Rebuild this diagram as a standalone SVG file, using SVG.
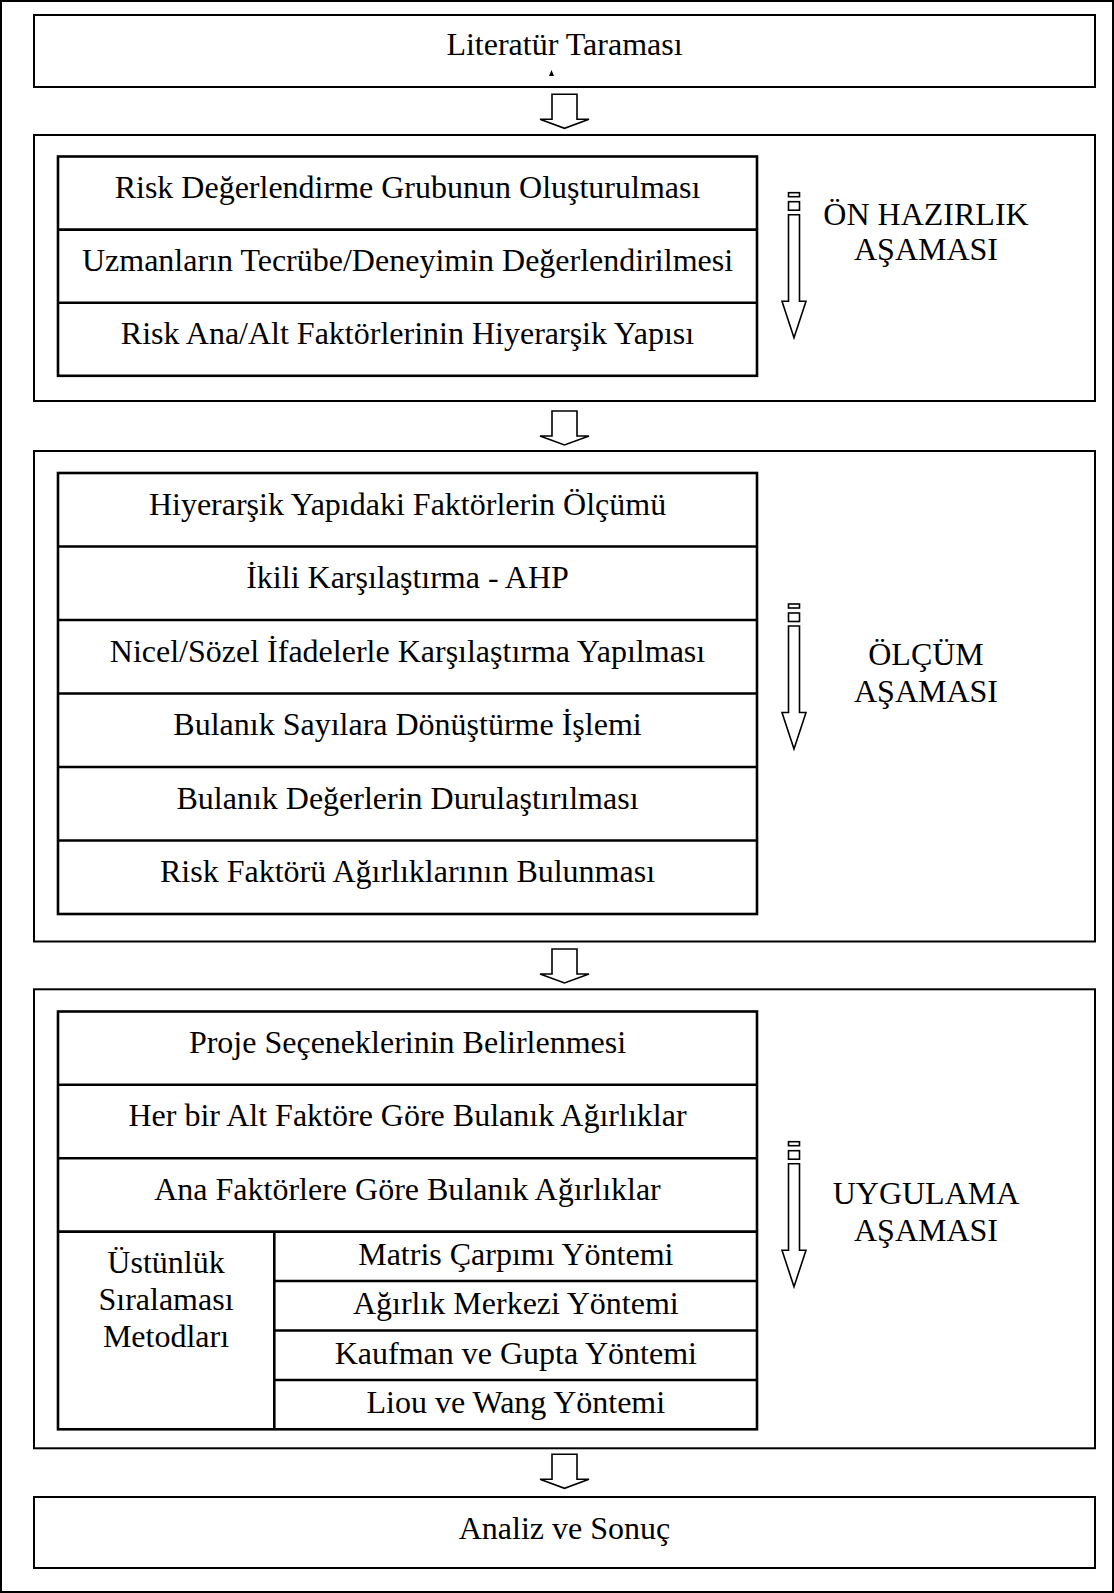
<svg xmlns="http://www.w3.org/2000/svg" width="1114" height="1593" viewBox="0 0 1114 1593">
<style>
.frame{fill:none;stroke:#000;stroke-width:2}
.box{fill:#fff;stroke:#000;stroke-width:2}
.cell{fill:none;stroke:#000;stroke-width:2.6}
.t{font-family:"Liberation Serif","Times New Roman",serif;font-size:32px;text-anchor:middle;fill:#000}
.arr{fill:#fff;stroke:#000;stroke-width:1.6;stroke-linejoin:miter}
</style>
<defs>
<g id="sidearrow">
<rect class="arr" x="788.5" y="0" width="11" height="4"/>
<rect class="arr" x="788.5" y="9" width="11" height="8.5"/>
<path class="arr" d="M788.5,22 H799.5 V108.5 H806 L794,145 L782,108.5 H788.5 Z"/>
</g>
<path id="downarrow" class="arr" d="M552,0 H577 V25 H589 L564.5,34 L540,25 H552 Z"/>
</defs>
<rect class="frame" x="1" y="1" width="1112" height="1591"/>

<g id="literatur">
<rect class="box" x="34" y="15" width="1061" height="72"/>
<text class="t" x="564.5" y="55">Literatür Taraması</text>
<polygon points="549,76 554,76 551.5,70" fill="#000"/>
</g>

<g id="on-hazirlik">
<rect class="box" x="34" y="135" width="1061" height="266"/>
<rect class="cell" x="58" y="156.5" width="699" height="219.3"/>
<line class="cell" x1="58" y1="229.6" x2="757" y2="229.6"/>
<line class="cell" x1="58" y1="302.7" x2="757" y2="302.7"/>
<text class="t" x="407.5" y="198">Risk Değerlendirme Grubunun Oluşturulması</text>
<text class="t" x="407.5" y="271">Uzmanların Tecrübe/Deneyimin Değerlendirilmesi</text>
<text class="t" x="407.5" y="344">Risk Ana/Alt Faktörlerinin Hiyerarşik Yapısı</text>
<use href="#sidearrow" transform="translate(0,192.7)"/>
<text class="t" x="926" y="225">ÖN HAZIRLIK</text>
<text class="t" x="926" y="260">AŞAMASI</text>
</g>

<g id="olcum">
<rect class="box" x="34" y="451" width="1061" height="490.5"/>
<rect class="cell" x="58" y="473" width="699" height="441"/>
<line class="cell" x1="58" y1="546.5" x2="757" y2="546.5"/>
<line class="cell" x1="58" y1="620" x2="757" y2="620"/>
<line class="cell" x1="58" y1="693.5" x2="757" y2="693.5"/>
<line class="cell" x1="58" y1="767" x2="757" y2="767"/>
<line class="cell" x1="58" y1="840.5" x2="757" y2="840.5"/>
<text class="t" x="407.5" y="514.5">Hiyerarşik Yapıdaki Faktörlerin Ölçümü</text>
<text class="t" x="407.5" y="588">İkili Karşılaştırma - AHP</text>
<text class="t" x="407.5" y="661.5">Nicel/Sözel İfadelerle Karşılaştırma Yapılması</text>
<text class="t" x="407.5" y="735">Bulanık Sayılara Dönüştürme İşlemi</text>
<text class="t" x="407.5" y="808.5">Bulanık Değerlerin Durulaştırılması</text>
<text class="t" x="407.5" y="882">Risk Faktörü Ağırlıklarının Bulunması</text>
<use href="#sidearrow" transform="translate(0,604)"/>
<text class="t" x="926" y="665">ÖLÇÜM</text>
<text class="t" x="926" y="701.5">AŞAMASI</text>
</g>

<g id="uygulama">
<rect class="box" x="34" y="989.3" width="1061" height="459"/>
<rect class="cell" x="58" y="1011.5" width="699" height="417.8"/>
<line class="cell" x1="58" y1="1084.8" x2="757" y2="1084.8"/>
<line class="cell" x1="58" y1="1158.2" x2="757" y2="1158.2"/>
<line class="cell" x1="58" y1="1231.6" x2="757" y2="1231.6"/>
<line class="cell" x1="274.3" y1="1231.6" x2="274.3" y2="1429.3"/>
<line class="cell" x1="274.3" y1="1281" x2="757" y2="1281"/>
<line class="cell" x1="274.3" y1="1330.5" x2="757" y2="1330.5"/>
<line class="cell" x1="274.3" y1="1380" x2="757" y2="1380"/>
<text class="t" x="407.5" y="1053">Proje Seçeneklerinin Belirlenmesi</text>
<text class="t" x="407.5" y="1126.3">Her bir Alt Faktöre Göre Bulanık Ağırlıklar</text>
<text class="t" x="407.5" y="1199.7">Ana Faktörlere Göre Bulanık Ağırlıklar</text>
<text class="t" x="166" y="1273.3">Üstünlük</text>
<text class="t" x="166" y="1310">Sıralaması</text>
<text class="t" x="166" y="1346.7">Metodları</text>
<text class="t" x="515.8" y="1265">Matris Çarpımı Yöntemi</text>
<text class="t" x="515.8" y="1314.4">Ağırlık Merkezi Yöntemi</text>
<text class="t" x="515.8" y="1363.9">Kaufman ve Gupta Yöntemi</text>
<text class="t" x="515.8" y="1413.3">Liou ve Wang Yöntemi</text>
<use href="#sidearrow" transform="translate(0,1141.7)"/>
<text class="t" x="926" y="1204">UYGULAMA</text>
<text class="t" x="926" y="1241">AŞAMASI</text>
</g>

<g id="analiz">
<rect class="box" x="34" y="1497" width="1061" height="71"/>
<text class="t" x="564.5" y="1538.5">Analiz ve Sonuç</text>
</g>

<g id="connectors">
<use href="#downarrow" transform="translate(0,94.3)"/>
<use href="#downarrow" transform="translate(0,411)"/>
<use href="#downarrow" transform="translate(0,949)"/>
<use href="#downarrow" transform="translate(0,1454.3)"/>
</g>
</svg>
